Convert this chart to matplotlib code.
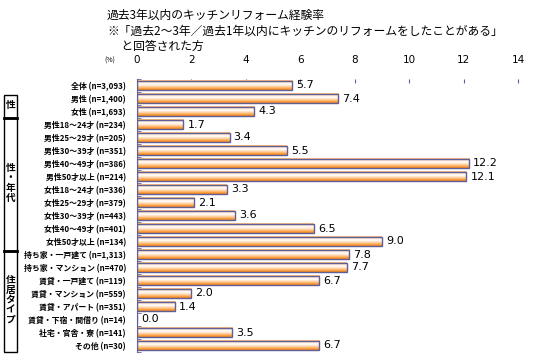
import numpy as np
import matplotlib
matplotlib.use("Agg")
from matplotlib import pyplot as plt
from matplotlib.colors import LinearSegmentedColormap
from matplotlib.patches import Rectangle

plt.rcParams['font.family'] = ['Noto Sans CJK JP', 'DejaVu Sans']

# categories (top to bottom)
labels = ["全体 (n=3,093)", "男性 (n=1,400)", "女性 (n=1,693)",
          "男性18～24才 (n=234)", "男性25～29才 (n=205)", "男性30～39才 (n=351)",
          "男性40～49才 (n=386)", "男性50才以上 (n=214)",
          "女性18～24才 (n=336)", "女性25～29才 (n=379)", "女性30～39才 (n=443)",
          "女性40～49才 (n=401)", "女性50才以上 (n=134)",
          "持ち家・一戸建て (n=1,313)", "持ち家・マンション (n=470)",
          "賃貸・一戸建て (n=119)", "賃貸・マンション (n=559)",
          "賃貸・アパート (n=351)", "賃貸・下宿・間借り (n=14)",
          "社宅・官舎・寮 (n=141)", "その他 (n=30)"]
values = [5.7, 7.4, 4.3,
          1.7, 3.4, 5.5, 12.2, 12.1,
          3.3, 2.1, 3.6, 6.5, 9.0,
          7.8, 7.7, 6.7, 2.0, 1.4, 0.0, 3.5, 6.7]
xticks = [0, 2, 4, 6, 8, 10, 12, 14]

# groups shown in boxes on the left: (text, top px, bottom px)
groups = [("性", 95, 118), ("性・年代", 118, 251), ("住居タイプ", 251, 352)]

title = ("過去3年以内のキッチンリフォーム経験率\n"
         "※「過去2～3年／過去1年以内にキッチンのリフォームをしたことがある」\n"
         "　 と回答された方")

edge = '#5f5f99'
grad = LinearSegmentedColormap.from_list(
    "bar", [(0.0, '#ffb366'), (0.2, '#ffe2c6'), (0.42, '#ffffff'),
            (0.65, '#ffd3a6'), (0.85, '#ffa040'), (1.0, '#f08519')])

fig = plt.figure(figsize=(5.34, 3.6), dpi=100)
W, H = 534, 360
ax = fig.add_axes([137 / W, 1 - 352 / H, (518 - 137) / W, (352 - 79) / H])

y = np.arange(len(labels))
h = 0.75
gimg = np.linspace(0, 1, 64).reshape(-1, 1)
for yi, v in zip(y, values):
    if v > 0:
        ax.imshow(gimg, cmap=grad, aspect='auto', interpolation='bilinear',
                  extent=(0, v, yi + h / 2, yi - h / 2), zorder=2)
ax.barh(y, values, height=h, facecolor='none', edgecolor=edge, linewidth=1.0, zorder=3)

for yi, v in zip(y, values):
    ax.text(v + 0.15, yi, f"{v:.1f}", va='center', ha='left', fontsize=8,
            family='DejaVu Sans', zorder=4)

ax.set_xlim(0, 14)
ax.set_ylim(len(labels) - 0.5, -0.5)
ax.set_xticks(xticks)
ax.set_xticklabels([str(t) for t in xticks], family='DejaVu Sans')
ax.xaxis.tick_top()
ax.tick_params(axis='x', direction='in', length=3, color=edge, labelsize=7.5, pad=10)
ax.set_yticks(y)
ax.set_yticklabels(labels, fontsize=5.7, weight='bold')
ax.set_yticks(np.arange(len(labels) + 1) - 0.5, minor=True)
ax.tick_params(axis='y', which='major', length=0, pad=8)
ax.tick_params(axis='y', which='minor', direction='in', length=3, color=edge)
for s in ['top', 'right', 'bottom']:
    ax.spines[s].set_visible(False)
ax.spines['left'].set_color(edge)
ax.set_facecolor('white')

fig.text(104 / W, 1 - 61 / H, "(%)", fontsize=5, va='center', ha='left')
fig.text(107 / W, 1 - 9 / H, title, fontsize=8.5, va='top', ha='left', linespacing=1.25)

# group boxes, text written vertically one character per row
step = 10
for txt, top, bot in groups:
    fig.patches.append(Rectangle((4 / W, 1 - bot / H), 13 / W, (bot - top) / H,
                                 transform=fig.transFigure, facecolor='none',
                                 edgecolor='black', linewidth=1.0))
    mid = (top + bot) / 2 - 2
    start = mid - step * (len(txt) - 1) / 2
    for k, ch in enumerate(txt):
        fig.text(10.5 / W, 1 - (start + k * step) / H, ch, fontsize=7, ha='center',
                 va='center', weight='bold')
# thicker separators between boxes
for yy in [118, 251]:
    fig.lines.append(plt.Line2D([4 / W, 17 / W], [1 - yy / H, 1 - yy / H],
                                transform=fig.transFigure, color='black', linewidth=2))

fig.savefig("out.png", dpi=100)
